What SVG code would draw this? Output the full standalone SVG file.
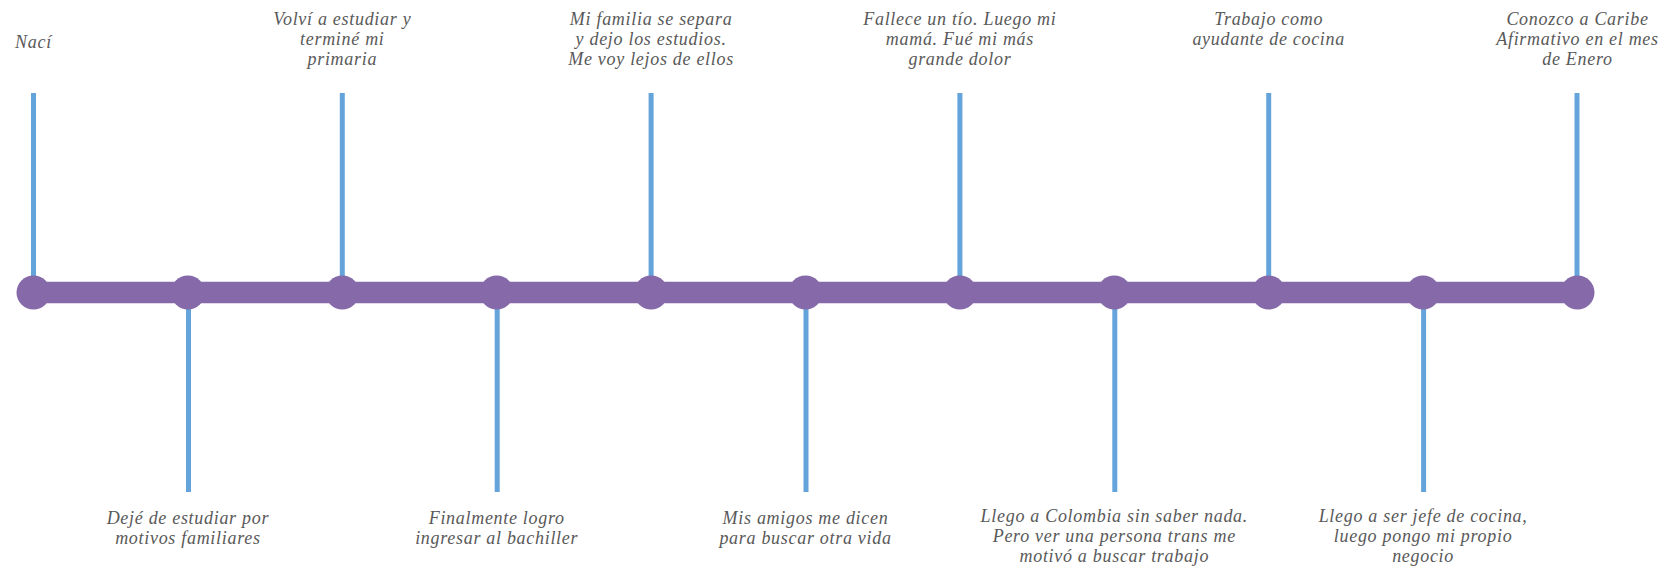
<svg xmlns="http://www.w3.org/2000/svg" width="1675" height="566" viewBox="0 0 1675 566">
<style>
.bar{stroke:#8569a9;stroke-width:21.5;fill:none}
.stem{stroke:#65a4da;stroke-width:5;fill:none}
.dot{fill:#8569a9}
.lbl{font-family:"Liberation Serif","Times New Roman",serif;font-style:italic;font-size:18px;letter-spacing:0.7px;fill:#595959;text-anchor:middle}
</style>
<rect width="1675" height="566" fill="#ffffff"/>
<g id="connectors">
<line class="bar" x1="33.5" y1="292.5" x2="1577.5" y2="292.5"/>
<line class="stem" x1="33.5" y1="93" x2="33.5" y2="292"/>
<line class="stem" x1="188.5" y1="292" x2="188.5" y2="492"/>
<line class="stem" x1="342.3" y1="93" x2="342.3" y2="292"/>
<line class="stem" x1="497.2" y1="292" x2="497.2" y2="492"/>
<line class="stem" x1="651.1" y1="93" x2="651.1" y2="292"/>
<line class="stem" x1="806" y1="292" x2="806" y2="492"/>
<line class="stem" x1="959.9" y1="93" x2="959.9" y2="292"/>
<line class="stem" x1="1114.8" y1="292" x2="1114.8" y2="492"/>
<line class="stem" x1="1268.7" y1="93" x2="1268.7" y2="292"/>
<line class="stem" x1="1423.6" y1="292" x2="1423.6" y2="492"/>
<line class="stem" x1="1577" y1="93" x2="1577" y2="292"/>
</g>
<g id="n0"><circle class="dot" cx="33.5" cy="292.5" r="17"/>
<text class="lbl" x="33.5" y="47.7">Nací</text></g>
<g id="n1"><circle class="dot" cx="187.9" cy="292.5" r="17"/>
<text class="lbl" x="187.9" y="524">Dejé de estudiar por<tspan x="187.9" dy="20">motivos familiares</tspan></text></g>
<g id="n2"><circle class="dot" cx="342.3" cy="292.5" r="17"/>
<text class="lbl" x="342.3" y="25">Volví a estudiar y<tspan x="342.3" dy="20">terminé mi</tspan><tspan x="342.3" dy="20">primaria</tspan></text></g>
<g id="n3"><circle class="dot" cx="496.7" cy="292.5" r="17"/>
<text class="lbl" x="496.7" y="524">Finalmente logro<tspan x="496.7" dy="20">ingresar al bachiller</tspan></text></g>
<g id="n4"><circle class="dot" cx="651.1" cy="292.5" r="17"/>
<text class="lbl" x="651.1" y="25">Mi familia se separa<tspan x="651.1" dy="20">y dejo los estudios.</tspan><tspan x="651.1" dy="20">Me voy lejos de ellos</tspan></text></g>
<g id="n5"><circle class="dot" cx="805.5" cy="292.5" r="17"/>
<text class="lbl" x="805.5" y="524">Mis amigos me dicen<tspan x="805.5" dy="20">para buscar otra vida</tspan></text></g>
<g id="n6"><circle class="dot" cx="959.9" cy="292.5" r="17"/>
<text class="lbl" x="959.9" y="25">Fallece un tío. Luego mi<tspan x="959.9" dy="20">mamá. Fué mi más</tspan><tspan x="959.9" dy="20">grande dolor</tspan></text></g>
<g id="n7"><circle class="dot" cx="1114.3" cy="292.5" r="17"/>
<text class="lbl" x="1114.3" y="522">Llego a Colombia sin saber nada.<tspan x="1114.3" dy="20">Pero ver una persona trans me</tspan><tspan x="1114.3" dy="20">motivó a buscar trabajo</tspan></text></g>
<g id="n8"><circle class="dot" cx="1268.7" cy="292.5" r="17"/>
<text class="lbl" x="1268.7" y="25">Trabajo como<tspan x="1268.7" dy="20">ayudante de cocina</tspan></text></g>
<g id="n9"><circle class="dot" cx="1423.1" cy="292.5" r="17"/>
<text class="lbl" x="1423.1" y="522">Llego a ser jefe de cocina,<tspan x="1423.1" dy="20">luego pongo mi propio</tspan><tspan x="1423.1" dy="20">negocio</tspan></text></g>
<g id="n10"><circle class="dot" cx="1577.5" cy="292.5" r="17"/>
<text class="lbl" x="1577.5" y="25">Conozco a Caribe<tspan x="1577.5" dy="20">Afirmativo en el mes</tspan><tspan x="1577.5" dy="20">de Enero</tspan></text></g>
</svg>
